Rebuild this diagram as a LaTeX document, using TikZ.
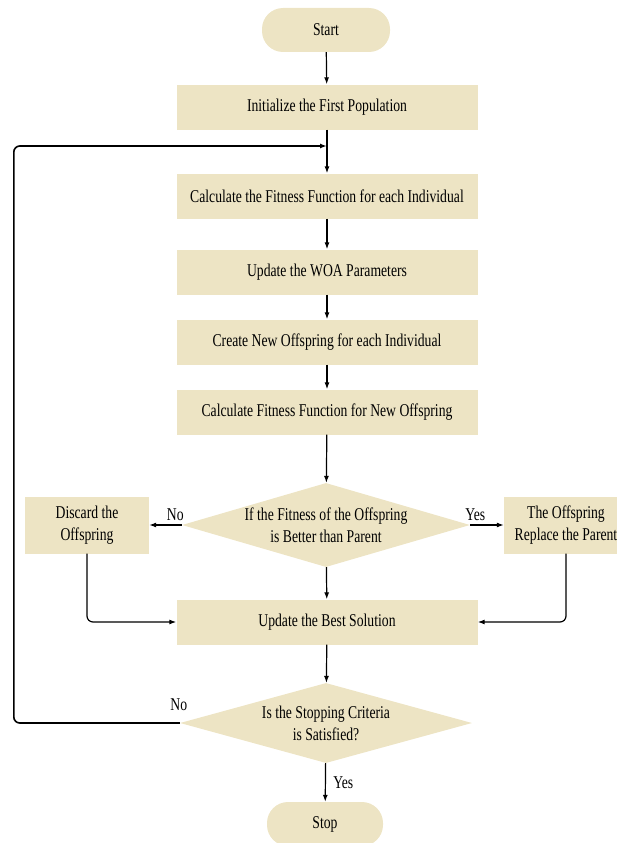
\documentclass[tikz,border=0pt]{standalone}
\usepackage{fontspec}
\setmainfont{Liberation Serif}[FakeStretch=0.76]
\usetikzlibrary{shapes.geometric,arrows.meta}
\definecolor{beige}{RGB}{237,228,196}
\begin{document}
\begin{tikzpicture}
  [x=1pt,y=-1pt,
   every node/.style={font=\fontsize{18}{22}\selectfont},
   box/.style={rectangle,fill=beige,minimum width=301,minimum height=45,inner sep=0},
   sidebox/.style={rectangle,fill=beige,minimum width=124,minimum height=57,inner sep=0,align=center},
   term/.style={rectangle,fill=beige,rounded corners=21,minimum height=44,inner sep=0},
   cond/.style={diamond,fill=beige,inner sep=0,minimum width=288,minimum height=84},
   arr/.style={-{Latex[length=7pt,width=5pt]},line width=1.2pt}]
\useasboundingbox (0,0) rectangle (617,843);

\node (n1)[term,minimum width=128] at (326,30) {Start};
  \node (n2)[box] at (327,107) {Initialize the First Population};
  \node (n3)[box] at (327,196) {Calculate the Fitness Function for each Individual};
  \node (n4)[box] at (327,272) {Update the WOA Parameters};
  \node (n5)[box] at (327,342) {Create New Offspring for each Individual};
  \node (n6)[box] at (327,412) {Calculate Fitness Function for New Offspring};
  \node (n7)[cond,label={[align=center]center:{If the Fitness of the Offspring\\is Better than Parent}}] at (326,525) {};
  \node (n8)[sidebox] at (87,525) {Discard the\\Offspring};
  \node (n9)[sidebox] at (566,525) {The Offspring\\Replace the Parent};
  \node (n10)[box] at (327,622) {Update the Best Solution};
  \node (n11)[cond,minimum width=292,minimum height=80,label={[align=center]center:{Is the Stopping Criteria\\is Satisfied?}}] at (326,723) {};
  \node (n12)[term,minimum width=116] at (325,824) {Stop};
  \coordinate (back) at (327,146);

 \path[arr]
   (n1) edge (n2)
   (n2) edge (n3)
   (n3) edge (n4)
   (n4) edge (n5)
   (n5) edge (n6)
   (n6) edge (n7)
   (n7) edge node[above,pos=0.2] {No} (n8)
   (n7) edge node[above,pos=0.15] {Yes} (n9)
   (n7) edge (n10)
   (n10) edge (n11)
   (n11) edge node[right,xshift=4] {Yes} (n12);
 \draw[arr,rounded corners=6] (n8.south) |- (n10.west);
 \draw[arr,rounded corners=6] (n9.south) |- (n10.east);
 \draw[arr,line width=1.6pt,rounded corners=6] (n11.west) -- ++(-166,0) |- (back);
 \node (no2) at ([xshift=-1,yshift=18]n11.west) {No};

\end{tikzpicture}
\end{document}
